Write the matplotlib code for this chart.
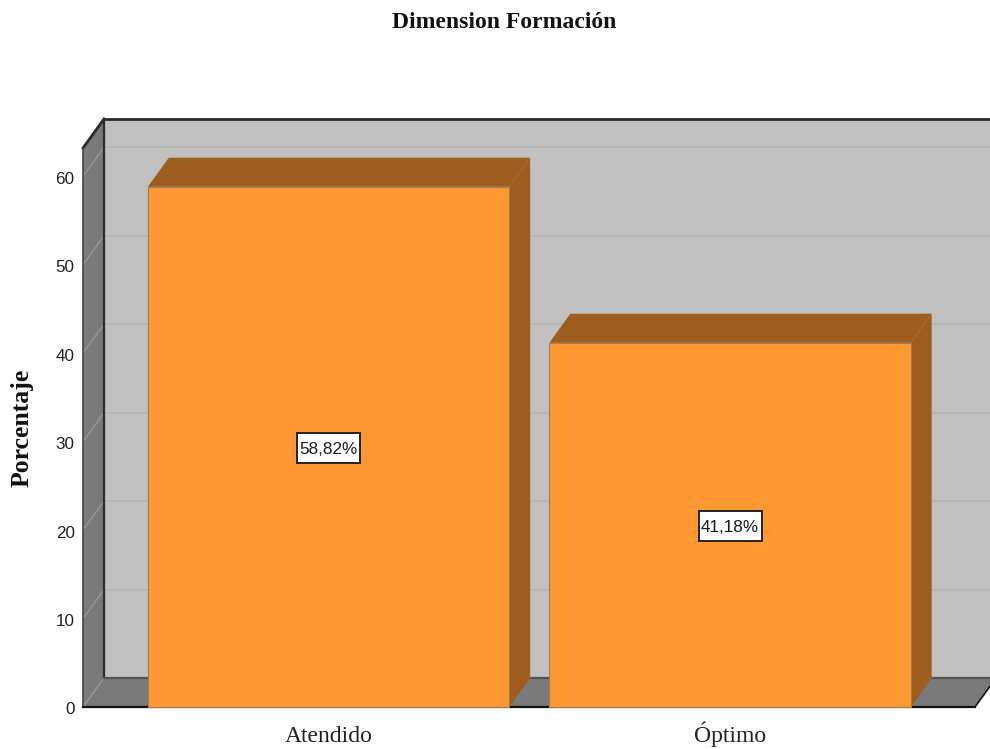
import matplotlib
matplotlib.use("Agg")
import matplotlib.pyplot as plt
from matplotlib.patches import Polygon, Rectangle
from matplotlib.transforms import ScaledTranslation

categories = ["Atendido", "Óptimo"]
values = [58.82, 41.18]
value_labels = ["58,82%", "41,18%"]
y_ticks = [0, 10, 20, 30, 40, 50, 60]
title = "Dimension Formación"
y_label = "Porcentaje"

W, H = 990, 749
fig = plt.figure(figsize=(W / 100, H / 100), dpi=100)
ax = fig.add_axes([83 / W, 1 - 707 / H, (975 - 83) / W, (707 - 148) / H])
ax.set_xlim(-0.6115, 1.6102)
ax.set_ylim(0, 63.2)
ax.patch.set_visible(False)

# depth of the pseudo-3D effect, in data units
dx = 21 / 401.5
dy = 29 / 8.84
x0, x1 = ax.get_xlim()
y0, y1 = ax.get_ylim()
bar_w = 0.9

WALL, SIDE, EDGE, GRID = "#c0c0c0", "#7a7a7a", "#2b2b2b", "#b4b4b4"
FRONT, SHADE = "#fd9832", "#9e5c1e"


def poly(pts, fc, z, ec="none", lw=0):
    ax.add_patch(Polygon(pts, closed=True, fc=fc, ec=ec, lw=lw, zorder=z, clip_on=False))


# walls and floor
poly([(x0 + dx, y0 + dy), (x1 + dx, y0 + dy), (x1 + dx, y1 + dy), (x0 + dx, y1 + dy)], WALL, 1)
poly([(x0, y0), (x0 + dx, y0 + dy), (x0 + dx, y1 + dy), (x0, y1)], SIDE, 1.1)
poly([(x0, y0), (x1, y0), (x1 + dx, y0 + dy), (x0 + dx, y0 + dy)], SIDE, 1.1)

# gridlines on wall and side
for t in y_ticks:
    if t > 0:
        ax.plot([x0 + dx, x1 + dx], [t + dy, t + dy], color=GRID, lw=1.2, zorder=1.5, clip_on=False)
    ax.plot([x0, x0 + dx], [t, t + dy], color="#969696", lw=1.0, zorder=1.5, clip_on=False)

# frame lines
ax.plot([x0 + dx, x1 + dx], [y1 + dy, y1 + dy], color=EDGE, lw=2, zorder=2, clip_on=False)
ax.plot([x0, x0 + dx], [y1, y1 + dy], color=EDGE, lw=2, zorder=2, clip_on=False)
ax.plot([x0 + dx, x0 + dx], [y0 + dy, y1 + dy], color=EDGE, lw=1.6, zorder=2, clip_on=False)
ax.plot([x0 + dx, x1 + dx], [y0 + dy, y0 + dy], color="#555555", lw=1.6, zorder=2, clip_on=False)
ax.plot([x0, x0], [y0, y1], color="#444444", lw=1.2, zorder=2, clip_on=False)
ax.plot([x0, x1], [y0, y0], color="#111111", lw=1.6, zorder=2, clip_on=False)
ax.plot([x1, x1 + dx], [y0, y0 + dy], color="#111111", lw=1.2, zorder=2, clip_on=False)

# bars
box_w, box_h = 63 / 401.5, 30 / 8.84
shift = 1.5 / 8.84
for i, v in enumerate(values):
    l, r = i - bar_w / 2, i + bar_w / 2
    poly([(r, 0), (r + dx, dy), (r + dx, v + dy), (r, v)], SHADE, 3)
    poly([(l, v), (r, v), (r + dx, v + dy), (l + dx, v + dy)], SHADE, 3)
    ax.add_patch(Rectangle((l, 0), bar_w, v, fc=FRONT, ec="#a87a50", lw=0.8, zorder=4, clip_on=False))
    ax.add_patch(Rectangle((i - box_w / 2, v / 2 - box_h / 2 - shift), box_w, box_h, fc="white",
                           ec="#222222", lw=1.4, zorder=5))
    ax.text(i, v / 2 - shift - 0.1, value_labels[i], ha="center", va="center", fontsize=12.3,
            family="Liberation Sans", color="#1a1a1a", zorder=6)

for s in ax.spines.values():
    s.set_visible(False)
ax.set_xticks(range(len(categories)), categories, family="Liberation Serif", fontsize=17, color="#222222")
for lab in ax.get_xticklabels():
    lab.set_verticalalignment("baseline")
ax.set_yticks(y_ticks, [str(t) for t in y_ticks], family="Liberation Sans", fontsize=12.3, color="#222222")
ax.tick_params(length=0)
ax.tick_params(axis="x", pad=25)
ax.tick_params(axis="y", pad=6)
down = ScaledTranslation(0, -1.5 / 100, fig.dpi_scale_trans)
for lab in ax.get_yticklabels():
    lab.set_transform(lab.get_transform() + down)

fig.text(504 / W, 1 - 23 / H, title, ha="center", va="center", family="Liberation Serif",
         fontweight="bold", fontsize=17, color="#111111")
fig.text(22 / W, 1 - 428 / H, y_label, ha="center", va="center", rotation=90,
         family="Liberation Serif", fontweight="bold", fontsize=18.5, color="#111111")

fig.savefig("out.png", dpi=100)
